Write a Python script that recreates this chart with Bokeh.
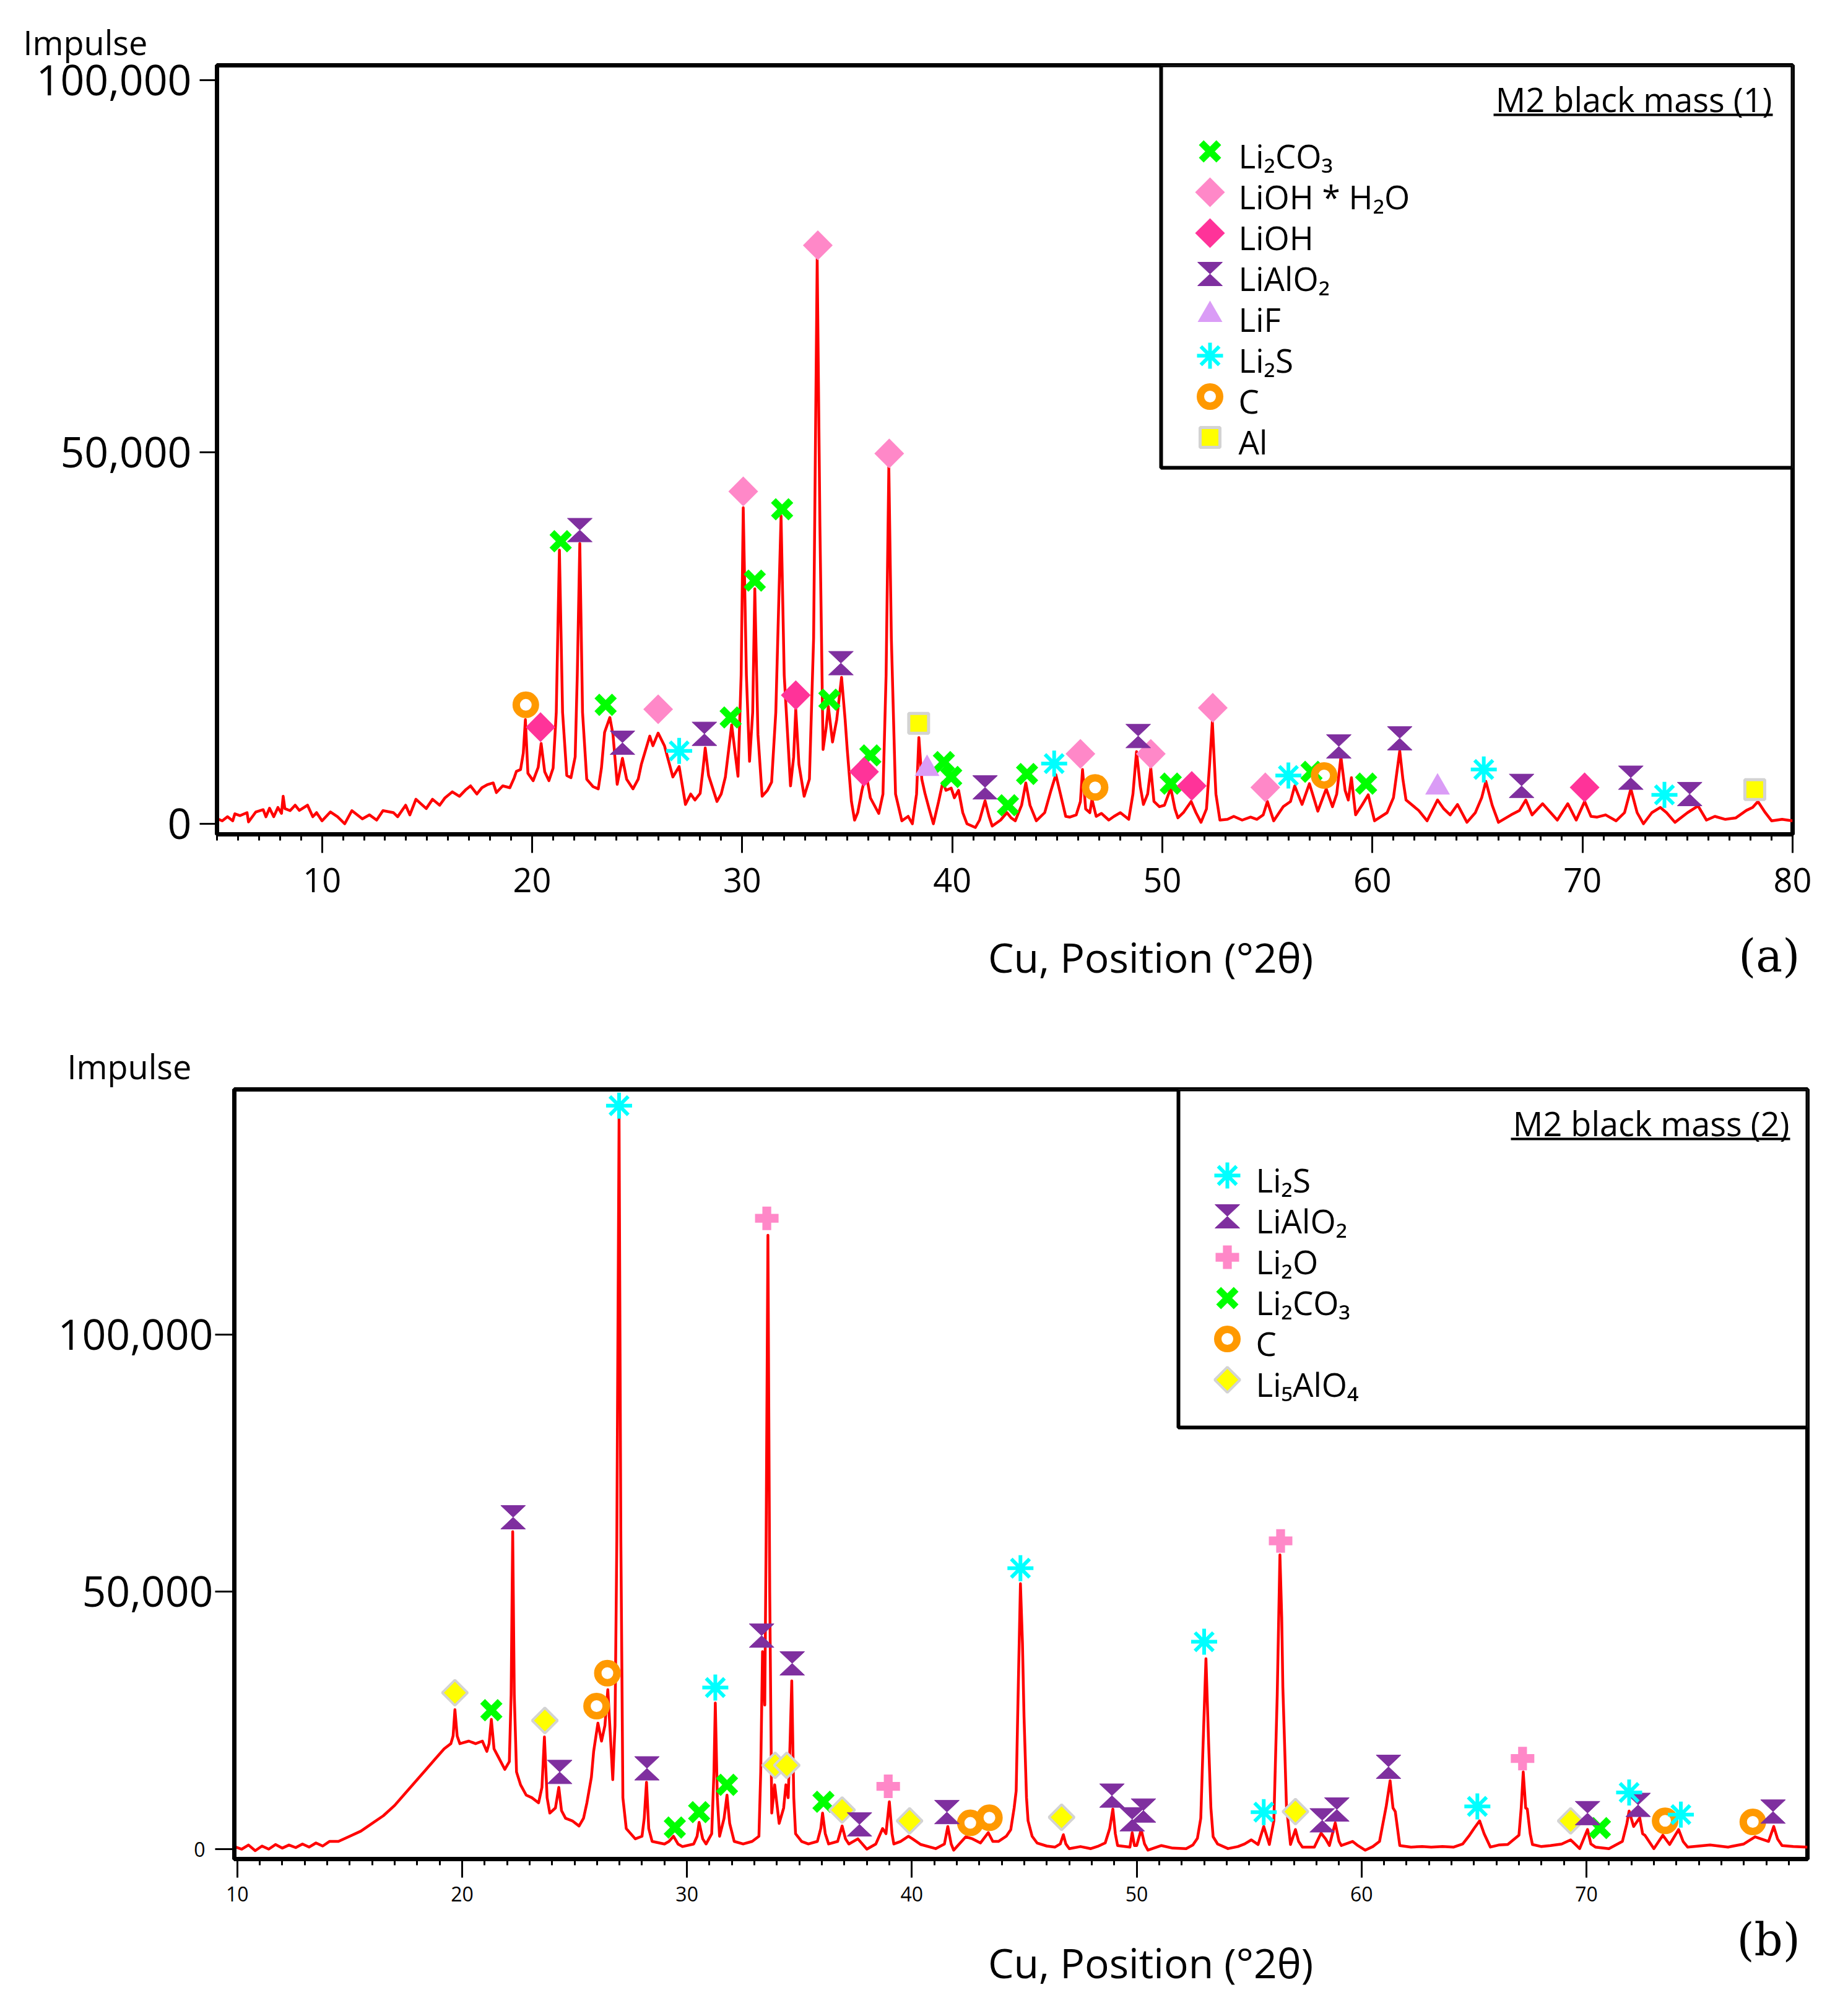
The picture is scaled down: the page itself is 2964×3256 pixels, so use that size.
import numpy as np

from bokeh.core.properties import value
from bokeh.embed import file_html
from bokeh.models import FixedTicker, LinearAxis, NumeralTickFormatter
from bokeh.plotting import figure
from bokeh.resources import INLINE

FONT = "Open Sans"

# ---------------- (a) M2 black mass (1) ----------------
# 2theta positions and impulse (in thousands)
pos_a = [5.0, 5.25, 5.5, 5.75, 5.85, 6.1, 6.43, 6.5, 6.85, 7.2, 7.33, 7.5, 7.7, 7.9, 8.07,
         8.15, 8.23, 8.48, 8.72, 8.92, 9.31, 9.56, 9.74, 10.0, 10.4, 10.74, 11.08, 11.42,
         11.92, 12.26, 12.6, 12.9, 13.4, 13.6, 13.98, 14.18, 14.47, 14.96, 15.26, 15.6,
         15.84, 16.2, 16.54, 16.83, 17.07, 17.37, 17.61, 17.86, 18.15, 18.3, 18.6, 18.94,
         19.15, 19.25, 19.45, 19.58, 19.68, 19.8, 20.05, 20.29, 20.43, 20.6, 20.8, 21.0,
         21.15, 21.3, 21.45, 21.65, 21.85, 22.05, 22.15, 22.27, 22.4, 22.6, 22.9, 23.15,
         23.3, 23.45, 23.7, 23.85, 24.05, 24.3, 24.5, 24.8, 25.05, 25.2, 25.6, 25.75, 26.0,
         26.3, 26.7, 27.0, 27.3, 27.55, 27.75, 28.0, 28.12, 28.24, 28.4, 28.8, 29.0, 29.2,
         29.5, 29.8, 29.95, 30.05, 30.2, 30.35, 30.5, 30.6, 30.75, 30.95, 31.2, 31.4, 31.6,
         31.85, 32.0, 32.3, 32.45, 32.55, 32.7, 32.95, 33.2, 33.4, 33.57, 33.7, 33.85, 34.0,
         34.1, 34.3, 34.5, 34.73, 34.9, 35.0, 35.2, 35.35, 35.5, 35.7, 35.9, 36.1, 36.5,
         36.7, 36.85, 36.98, 37.1, 37.3, 37.6, 37.9, 38.1, 38.3, 38.41, 38.55, 38.7, 38.9,
         39.1, 39.35, 39.55, 39.7, 39.95, 40.1, 40.3, 40.5, 40.7, 41.1, 41.3, 41.56, 41.75,
         41.9, 42.3, 42.6, 42.8, 43.0, 43.3, 43.5, 43.7, 44.0, 44.4, 44.7, 44.93, 45.15,
         45.4, 45.6, 45.9, 46.1, 46.2, 46.35, 46.55, 46.65, 46.85, 47.1, 47.45, 47.7, 48.0,
         48.4, 48.6, 48.77, 48.95, 49.1, 49.3, 49.45, 49.6, 49.86, 50.1, 50.4, 50.6, 50.74,
         51.0, 51.37, 51.6, 51.84, 52.1, 52.25, 52.38, 52.55, 52.74, 53.1, 53.4, 53.8, 54.2,
         54.5, 54.8, 55.0, 55.3, 55.75, 56.1, 56.3, 56.65, 57.0, 57.4, 57.8, 58.1, 58.3,
         58.5, 58.7, 58.85, 59.0, 59.2, 59.5, 59.8, 60.1, 60.7, 61.0, 61.3, 61.45, 61.6,
         62.2, 62.6, 63.1, 63.4, 63.7, 64.05, 64.5, 64.9, 65.2, 65.4, 65.7, 66.0, 66.6,
         67.0, 67.3, 67.6, 68.1, 68.8, 69.3, 69.7, 70.1, 70.4, 70.7, 71.1, 71.6, 72.0, 72.3,
         72.6, 72.9, 73.3, 73.7, 74.0, 74.4, 75.0, 75.5, 75.9, 76.3, 76.8, 77.3, 77.8, 78.1,
         78.35, 78.7, 79.0, 79.5, 80.0]
imp_a = [0.7, 0.4, 0.95, 0.4, 1.35, 1.1, 1.5, 0.25, 1.6, 1.9, 0.95, 2.1, 0.95, 2.2, 1.4,
         3.7, 2.05, 1.77, 2.5, 1.8, 2.5, 0.95, 1.5, 0.4, 1.6, 0.95, 0.0, 1.77,
         0.67, 1.2, 0.5, 1.77, 1.5, 0.95, 2.5, 1.2, 3.3, 2.05, 3.3, 2.5,
         3.45, 4.3, 3.7, 4.55, 5.1, 4.0, 4.85, 5.25, 5.5, 4.2, 5.1, 4.85,
         6.2, 7.05, 7.3, 9.5, 14.0, 6.8, 5.8, 7.6, 10.8, 7.0, 5.8, 7.5,
         15.0, 36.8, 15.0, 6.5, 6.2, 9.0, 20.0, 37.7, 15.0, 6.0, 5.0, 4.7,
         7.5, 12.3, 14.3, 12.0, 5.3, 8.8, 6.0, 4.7, 6.0, 8.0, 11.8, 10.5, 12.2,
         10.5, 6.3, 7.7, 2.6, 4.0, 3.2, 4.1, 7.0, 10.2, 6.5, 3.0, 4.0, 6.3,
         13.3, 6.4, 20.0, 42.5, 20.0, 8.4, 15.0, 31.6, 12.0, 3.7, 4.5, 5.6, 15.0,
         41.4, 20.0, 5.1, 9.0, 15.4, 8.0, 3.7, 6.0, 25.0, 76.0, 40.0, 10.0, 13.0,
         15.8, 11.0, 14.0, 19.7, 14.0, 10.0, 3.0, 0.5, 1.5, 4.5, 6.8, 3.5, 1.4,
         4.0, 20.0, 48.0, 25.0, 4.0, 0.4, 1.0, 0.0, 4.0, 11.6, 6.0, 4.1, 2.0,
         0.0, 3.0, 5.6, 4.5, 4.8, 3.5, 4.5, 1.5, 0.0, -0.5, 0.5, 3.1, 1.0,
         -0.3, 0.5, 1.5, 0.8, 0.4, 2.5, 5.5, 2.5, 0.4, 1.5, 4.5, 6.6, 4.0,
         1.0, 0.9, 1.2, 3.0, 7.3, 2.0, 1.5, 3.3, 1.0, 1.4, 0.5, 1.0, 1.5,
         0.6, 4.0, 9.7, 5.0, 2.6, 4.0, 7.5, 3.0, 2.3, 2.5, 4.8, 2.0, 0.8,
         1.5, 3.0, 1.5, 0.2, 2.0, 8.0, 13.8, 4.0, 0.5, 0.6, 1.0, 0.5, 0.9,
         0.6, 1.2, 3.0, 0.4, 2.3, 3.0, 5.1, 2.6, 5.4, 1.7, 4.7, 2.3, 4.0,
         9.0, 4.5, 3.2, 6.2, 1.2, 2.5, 3.9, 0.4, 1.5, 3.5, 9.8, 6.0, 3.2,
         1.8, 0.4, 3.2, 2.0, 1.2, 2.6, 0.2, 1.5, 3.5, 5.7, 2.5, 0.2, 1.2,
         1.8, 3.2, 1.2, 2.7, 0.5, 2.7, 0.5, 3.0, 1.0, 0.9, 1.2, 0.4, 1.5, 4.7,
         1.5, 0.0, 1.5, 2.2, 1.5, 0.2, 1.5, 2.4, 0.5, 1.0, 0.6, 0.8, 1.8, 2.2,
         3.0, 1.5, 0.4, 0.6, 0.4]

# phase markers (2theta, impulse in thousands)
a_li2co3 = [(21.36, 38.0), (23.5, 16.0), (29.45, 14.3), (30.6, 32.7), (31.9, 42.3),
            (34.15, 16.7), (36.1, 9.2), (39.6, 8.3), (39.95, 6.3), (42.65, 2.5),
            (43.56, 6.7), (50.4, 5.4), (57.1, 7.0), (59.7, 5.4)]
a_lioh_h2o = [(26.0, 15.4), (30.05, 44.7), (33.6, 77.8), (37.0, 49.8), (46.1, 9.4),
              (49.45, 9.4), (52.4, 15.6), (54.9, 4.9)]
a_lioh = [(20.4, 13.0), (32.55, 17.3), (35.8, 7.0), (51.4, 5.1), (70.1, 4.9)]
a_lialo2 = [(22.27, 39.5), (24.3, 10.9), (28.2, 12.1), (34.7, 21.6), (41.56, 4.9),
            (48.85, 11.8), (58.4, 10.4), (61.3, 11.5), (67.1, 5.1), (72.3, 6.2), (75.1, 4.0)]
a_lif = [(38.8, 7.4), (63.1, 4.9)]
a_li2s = [(27.0, 9.8), (44.85, 8.1), (56.0, 6.5), (65.3, 7.3), (73.9, 3.9)]
a_c = [(19.7, 16.0), (46.8, 4.9), (57.7, 6.5)]
a_al = [(38.4, 13.5), (78.2, 4.6)]

# ---------------- (b) M2 black mass (2) ----------------
pos_b = [9.87, 10.2, 10.5, 10.8, 11.1, 11.4, 11.7, 12.0, 12.3, 12.6, 12.9, 13.2, 13.5, 13.8,
         14.1, 14.5, 15.0, 15.5, 16.0, 16.5, 17.0, 17.4, 17.9, 18.4, 18.8, 19.2, 19.5, 19.6,
         19.68, 19.78, 19.9, 20.3, 20.6, 20.9, 21.1, 21.2, 21.3, 21.42, 21.6, 21.9, 22.1,
         22.18, 22.25, 22.32, 22.42, 22.6, 22.85, 23.1, 23.4, 23.55, 23.66, 23.78, 23.9,
         24.15, 24.3, 24.42, 24.6, 24.9, 25.2, 25.4, 25.55, 25.75, 25.85, 26.04, 26.2, 26.35,
         26.48, 26.62, 26.7, 26.8, 26.88, 26.98, 27.06, 27.15, 27.3, 27.7, 28.0, 28.1, 28.2,
         28.3, 28.45, 29.0, 29.2, 29.4, 29.6, 29.8, 30.3, 30.45, 30.54, 30.7, 30.85, 31.1,
         31.2, 31.26, 31.35, 31.45, 31.65, 31.78, 31.9, 32.1, 32.5, 32.9, 33.2, 33.28, 33.36,
         33.46, 33.52, 33.6, 33.68, 33.77, 33.9, 34.1, 34.3, 34.4, 34.5, 34.58, 34.66, 34.75,
         34.83, 35.1, 35.4, 35.8, 35.95, 36.03, 36.15, 36.3, 36.7, 36.9, 37.05, 37.2, 37.6,
         38.0, 38.4, 38.7, 38.85, 39.0, 39.12, 39.2, 39.5, 39.85, 40.0, 40.4, 41.06, 41.45,
         41.6, 41.75, 41.86, 42.4, 42.7, 43.05, 43.4, 43.6, 43.85, 44.2, 44.4, 44.55, 44.64,
         44.75, 44.83, 44.92, 44.99, 45.1, 45.17, 45.35, 45.57, 46.0, 46.37, 46.6, 46.74,
         46.85, 47.0, 47.5, 47.96, 48.3, 48.6, 48.8, 48.94, 49.05, 49.15, 49.7, 49.8, 49.9,
         50.0, 50.2, 50.35, 50.5, 51.1, 51.6, 52.2, 52.5, 52.7, 52.85, 52.95, 53.08, 53.2,
         53.3, 53.4, 53.6, 54.06, 54.5, 54.8, 55.1, 55.4, 55.65, 55.9, 56.1, 56.25, 56.37,
         56.45, 56.5, 56.58, 56.66, 56.84, 57.06, 57.2, 57.37, 57.9, 58.2, 58.4, 58.57,
         58.83, 59.0, 59.1, 59.6, 59.8, 60.16, 60.5, 60.8, 61.1, 61.27, 61.4, 61.5, 61.7,
         62.2, 62.7, 63.1, 63.6, 64.1, 64.5, 64.8, 65.0, 65.25, 65.45, 65.73, 66.1, 66.5,
         67.0, 67.1, 67.19, 67.3, 67.37, 67.5, 67.6, 68.0, 68.4, 68.9, 69.3, 69.7, 70.05,
         70.2, 70.4, 71.0, 71.6, 71.8, 71.9, 72.1, 72.37, 72.5, 72.6, 73.0, 73.4, 73.7, 74.1,
         74.3, 74.5, 75.0, 75.5, 76.3, 77.0, 77.5, 78.1, 78.33, 78.5, 78.7, 79.2, 79.83]
imp_b = [0.5, 0.0, 0.8, -0.3, 0.6, 0.0, 0.9, 0.2, 0.8, 0.3, 1.0, 0.4, 1.2, 0.6,
         1.5, 1.5, 2.5, 3.5, 5.0, 6.5, 8.5, 10.5, 13.0, 15.5, 17.5, 19.5, 20.5, 22.0,
         27.1, 22.0, 20.5, 21.0, 20.5, 21.0, 19.0, 20.5, 25.2, 19.5, 18.0, 15.5, 17.0,
         30.0, 61.7, 30.0, 15.0, 12.5, 10.5, 10.0, 9.0, 12.0, 21.8, 10.0, 7.0,
         8.0, 12.0, 7.5, 6.0, 5.5, 4.5, 6.0, 9.0, 14.0, 19.0, 24.5, 21.0, 24.0,
         31.0, 20.0, 13.5, 24.0, 60.0, 142.0, 60.0, 10.0, 4.0, 2.0, 2.5, 6.0, 13.0,
         4.0, 1.5, 1.0, 1.5, 2.5, 1.0, 0.5, 1.0, 2.5, 5.2, 2.0, 1.0, 3.0,
         15.0, 28.4, 10.0, 2.5, 6.0, 10.5, 5.0, 1.5, 1.0, 1.5, 2.5, 15.0, 38.4,
         28.0, 60.0, 119.3, 50.0, 7.0, 12.5, 5.0, 8.0, 12.5, 10.0, 20.0, 32.7, 10.0,
         3.0, 1.5, 1.0, 1.5, 4.0, 7.0, 3.0, 1.0, 1.5, 4.5, 2.0, 1.0, 2.0,
         0.0, 1.0, 4.0, 3.0, 9.2, 3.0, 1.0, 1.5, 2.5, 2.1, 0.9, 0.1, 1.0,
         4.4, 1.0, -0.2, 2.4, 2.0, 1.2, 3.2, 1.5, 1.5, 2.5, 3.8, 8.0, 11.3,
         35.0, 51.6, 40.0, 25.7, 10.0, 5.5, 2.5, 1.2, 0.6, 0.4, 1.0, 2.8,
         1.0, 0.1, 0.5, 0.1, 0.6, 1.2, 4.0, 7.8, 3.0, 0.7, 0.4, 3.2, 0.7,
         0.7, 3.8, 1.0, -0.2, 0.7, 0.2, 0.1, 0.8, 2.1, 6.0, 20.0, 37.0, 20.5,
         8.0, 2.4, 1.0, 0.1, 0.5, 1.0, 1.8, 0.9, 4.4, 0.9, 5.5, 30.0, 57.2,
         45.0, 31.5, 20.0, 8.4, 0.9, 3.8, 1.5, 0.4, 0.4, 3.1, 2.0, 0.7,
         5.1, 1.5, 0.7, 1.5, 0.8, -0.2, 0.5, 1.5, 8.4, 13.3, 8.0, 7.3, 0.7,
         0.4, 0.5, 0.4, 0.5, 0.4, 1.0, 2.7, 4.0, 5.5, 3.0, 0.4, 0.8, 0.9,
         2.7, 8.0, 15.0, 8.0, 7.8, 3.0, 0.9, 0.5, 0.7, 1.0, 1.8, 0.1, 3.8,
         1.0, 0.4, 0.1, 1.5, 5.0, 7.4, 4.4, 6.1, 3.0, 2.7, 0.1, 2.7, 0.9, 3.8,
         1.5, 0.4, 0.6, 0.8, 0.4, 1.0, 2.4, 1.5, 4.4, 2.0, 0.7, 0.5, 0.4]

b_li2s = [(26.98, 144.5), (31.26, 31.4), (44.83, 54.6), (53.0, 40.3), (55.65, 7.2),
          (65.15, 8.3), (71.9, 11.0), (74.2, 6.7)]
b_lialo2 = [(22.27, 64.5), (24.34, 15.0), (28.22, 15.7), (33.32, 41.5), (34.68, 36.1),
            (37.67, 4.8), (41.56, 7.2), (48.9, 10.4), (49.8, 5.8), (50.3, 7.5), (58.25, 5.6),
            (58.9, 7.7), (61.2, 16.0), (70.05, 7.0), (72.3, 8.6), (78.3, 7.3)]
b_li2o = [(33.55, 122.6), (38.95, 12.2), (56.4, 59.9), (67.16, 17.6)]
b_li2co3 = [(21.3, 27.0), (29.46, 4.2), (30.54, 7.2), (31.78, 12.5), (36.07, 9.2), (70.6, 4.1)]
b_c = [(25.98, 27.8), (26.46, 34.2), (42.6, 5.1), (43.45, 6.1), (73.5, 5.5), (77.4, 5.3)]
b_li5alo4 = [(19.68, 30.4), (23.68, 25.0), (33.92, 16.3), (34.44, 16.3), (36.9, 7.6),
             (39.9, 5.5), (46.66, 6.2), (57.06, 7.3), (69.3, 5.5)]

ticks_a = [10, 20, 30, 40, 50, 60, 70, 80]
ticks_b = [10, 20, 30, 40, 50, 60, 70]
yticks = [0, 50000, 100000]

XTITLE = "Cu, Position (°2θ)"

# marker look of every phase
STYLE = {
    "Li2CO3": ("x", "#00FF00"),
    "LiOH*H2O": ("diamond", "#FF88C8"),
    "LiOH": ("diamond", "#FF3399"),
    "LiAlO2": ("hourglass", "#7F2F9F"),
    "LiF": ("triangle", "#DA9CF6"),
    "Li2S": ("asterisk", "#00FFFF"),
    "C": ("ring", "#FF9900"),
    "Al": ("square", "#FFFF00"),
    "Li2O": ("plus", "#FF88C8"),
    "Li5AlO4": ("ydiamond", "#FFFF00"),
}


class Panel:
    '''frame geometry: converts pixel offsets (from frame top-left) to data units'''
    def __init__(self, x0, x1, y0, y1, fw, fh):
        self.x0, self.x1, self.y0, self.y1 = x0, x1, y0, y1
        self.fw, self.fh = fw, fh
        self.kx = fw / (x1 - x0)
        self.ky = fh / (y1 - y0)

    def x(self, px):
        return self.x0 + px / self.kx

    def y(self, py):
        return self.y1 - py / self.ky


def marks(p, g, phase, xs, ys):
    kind, color = STYLE[phase]
    if kind == "x":
        p.scatter(xs, ys, marker="x", size=40, line_color=color, line_width=11)
    elif kind == "diamond":
        p.scatter(xs, ys, marker="square", angle=np.pi / 4, size=34,
                  fill_color=color, line_color=None)
    elif kind == "ydiamond":
        p.scatter(xs, ys, marker="square", angle=np.pi / 4, size=29,
                  fill_color=color, line_color="#D3D3D3", line_width=4)
    elif kind == "hourglass":
        hw, hh = 20 / g.kx, 19 / g.ky
        px = [[x - hw, x + hw, x, x + hw, x - hw, x] for x in xs]
        py = [[y + hh, y + hh, y, y - hh, y - hh, y] for y in ys]
        p.patches(px, py, fill_color=color, line_color=color, line_width=1)
    elif kind == "triangle":
        p.scatter(xs, ys, marker="triangle", size=40, fill_color=color, line_color=None)
    elif kind == "asterisk":
        p.scatter(xs, ys, marker="asterisk", size=42, line_color=color, line_width=6)
    elif kind == "ring":
        p.scatter(xs, ys, marker="circle", size=31, fill_color=None,
                  line_color=color, line_width=12)
    elif kind == "square":
        p.scatter(xs, ys, marker="square", size=32, fill_color=color,
                  line_color="#D3D3D3", line_width=5)
    elif kind == "plus":
        p.scatter(xs, ys, marker="plus", size=38, fill_color=color, line_color=None)


def bare_axis(ticks, overrides, font, size, standoff, formatter=None):
    '''extra axis used only to carry texts outside the frame'''
    axis = LinearAxis(ticker=FixedTicker(ticks=ticks, minor_ticks=[]),
                      axis_line_color=None, major_tick_line_color=None,
                      minor_tick_line_color=None, major_tick_in=0, major_tick_out=0,
                      minor_tick_in=0, minor_tick_out=0, major_label_standoff=standoff,
                      major_label_text_font=font, major_label_text_font_size=size,
                      major_label_text_color="black")
    if overrides:
        axis.major_label_overrides = overrides
    if formatter is not None:
        axis.formatter = formatter
    return axis


def panel(g, pos, imp, phases, entries, title, borders, xticks, xlab_size, xlab_standoff,
          small_zero, impulse_offset, xtitle_at, xtitle_standoff, tag, tag_at, tag_standoff,
          box_bottom):
    left, right, top, bottom = borders
    p = figure(width=left + right + g.fw, height=top + bottom + g.fh,
               x_range=(g.x0, g.x1), y_range=(g.y0, g.y1),
               output_backend="svg", toolbar_location=None, title="Impulse",
               min_border_left=left, min_border_right=right,
               min_border_top=top, min_border_bottom=bottom,
               background_fill_color="white", border_fill_color="white")
    p.grid.grid_line_color = None
    p.outline_line_color = "black"
    p.outline_line_width = 7

    p.title.align = "left"
    p.title.offset = impulse_offset
    p.title.standoff = 2
    p.title.text_font = FONT
    p.title.text_font_size = "54px"
    p.title.text_font_style = "normal"
    p.title.text_color = "black"

    ax = p.xaxis[0]
    ax.ticker = FixedTicker(ticks=xticks,
                            minor_ticks=list(range(int(np.ceil(g.x0)), int(g.x1) + 1)))
    ax.major_label_text_font = FONT
    ax.major_label_text_font_size = xlab_size
    ax.major_label_text_color = "black"
    ax.major_label_standoff = xlab_standoff
    ax.axis_line_width = 7
    ax.major_tick_line_width = 3
    ax.minor_tick_line_width = 3
    ax.major_tick_out = 30
    ax.major_tick_in = 0
    ax.minor_tick_out = 10
    ax.minor_tick_in = 0

    ay = p.yaxis[0]
    ay.ticker = FixedTicker(ticks=yticks, minor_ticks=[])
    ay.formatter = NumeralTickFormatter(format="0,0")
    ay.major_label_text_font = FONT
    ay.major_label_text_color = "black"
    ay.axis_line_width = 7
    ay.major_tick_line_width = 3
    ay.major_tick_in = 0
    ay.minor_tick_line_color = None
    if small_zero:
        # small "0" on the ticked axis, big labels on an outer axis
        ay.major_label_overrides = {50000: "", 100000: ""}
        ay.major_label_text_font_size = "32px"
        ay.major_label_standoff = 16
        ay.major_tick_out = 31
        p.add_layout(bare_axis(yticks[1:], None, FONT, "68px", -34,
                               NumeralTickFormatter(format="0,0")), "left")
    else:
        ay.major_label_text_font_size = "68px"
        ay.major_label_standoff = 13
        ay.major_tick_out = 28

    # axis title and panel tag below the frame
    p.add_layout(bare_axis([xtitle_at], {xtitle_at: XTITLE}, FONT, "66px", xtitle_standoff),
                 "below")
    p.add_layout(bare_axis([tag_at], {tag_at: tag}, "DejaVu Serif", "72px", tag_standoff),
                 "below")

    # spectrum
    p.line(pos, [v * 1000 for v in imp], line_color="#FF0000", line_width=4.5,
           line_join="round")

    # phase markers
    for phase, pts in phases:
        marks(p, g, phase, [a for a, b in pts], [b * 1000 for a, b in pts])

    # legend box
    p.quad(left=[g.x(1525)], right=[g.x1], top=[g.y1], bottom=[g.y(box_bottom)],
           fill_color="white", line_color="black", line_width=6)
    p.text(x=[g.x(2512)], y=[g.y(54)], text=[title], text_font=value(FONT),
           text_font_size="54px", text_align="right", text_baseline="middle",
           text_color="black")
    p.segment(x0=[g.x(2062)], y0=[g.y(80)], x1=[g.x(2513)], y1=[g.y(80)],
              line_color="black", line_width=4)
    for i, (phase, label) in enumerate(entries):
        mid = 139 + 66 * i
        marks(p, g, phase, [g.x(1604)], [g.y(mid)])
        p.text(x=[g.x(1650)], y=[g.y(mid + 7)], text=[label], text_font=value(FONT),
               text_font_size="53px", text_baseline="middle", text_color="black")
    return p


geom_a = Panel(5.0, 80.0, -1415, 102000, 2545, 1242)
geom_b = Panel(9.87, 79.83, -1925, 147650, 2541, 1243)

p1 = panel(geom_a, pos_a, imp_a,
           [("Li2CO3", a_li2co3), ("LiOH*H2O", a_lioh_h2o), ("LiOH", a_lioh),
            ("LiAlO2", a_lialo2), ("LiF", a_lif), ("Li2S", a_li2s), ("C", a_c), ("Al", a_al)],
           [("Li2CO3", "Li₂CO₃"), ("LiOH*H2O", "LiOH * H₂O"), ("LiOH", "LiOH"),
            ("LiAlO2", "LiAlO₂"), ("LiF", "LiF"), ("Li2S", "Li₂S"), ("C", "C"), ("Al", "Al")],
           "M2 black mass (1)", (350, 53, 105, 285), ticks_a, "54px", 24, False,
           -313, 49.44, 56, "(a)", 78.89, -91, 650)

p2 = panel(geom_b, pos_b, imp_b,
           [("Li2CO3", b_li2co3), ("C", b_c), ("Li5AlO4", b_li5alo4), ("LiAlO2", b_lialo2),
            ("Li2O", b_li2o), ("Li2S", b_li2s)],
           [("Li2S", "Li₂S"), ("LiAlO2", "LiAlO₂"), ("Li2O", "Li₂O"), ("Li2CO3", "Li₂CO₃"),
            ("C", "C"), ("Li5AlO4", "Li₅AlO₄")],
           "M2 black mass (2)", (378, 29, 127, 238), ticks_b, "32px", 14, True,
           -270, 50.62, 50, "(b)", 78.1, -126, 546)

# two separate roots, so that the frames are not aligned with each other
open("out.html", "w").write(file_html([p1, p2], INLINE))
